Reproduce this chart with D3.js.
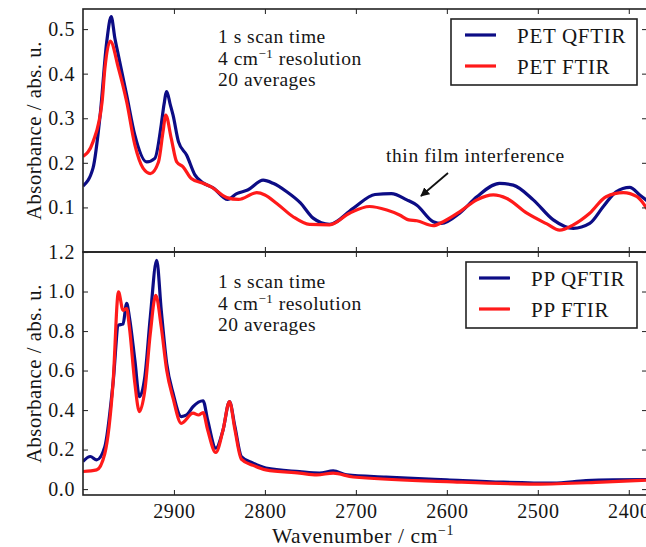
<!DOCTYPE html>
<html>
<head>
<meta charset="utf-8">
<script src="https://cdn.jsdelivr.net/npm/d3@7"></script>
<style>
  html, body { margin: 0; padding: 0; background: #fff; }
  svg { display: block; }
  text { font-family: "Liberation Serif", "Times New Roman", serif; fill: #151515; }
</style>
</head>
<body>
<svg id="chart" width="646" height="547"></svg>
<script>
// Tick values
const wavenumberTicks = [2900, 2800, 2700, 2600, 2500, 2400];
const petAbsTicks = [0.1, 0.2, 0.3, 0.4, 0.5];
const ppAbsTicks = [0.0, 0.2, 0.4, 0.6, 0.8, 1.0, 1.2];

// PET spectra (wavenumber in cm^-1, absorbance in abs. u.)
const petQftirWn = [3000, 2989, 2981, 2974, 2969, 2965, 2961, 2952, 2943, 2930, 2921, 2914, 2911, 2908, 2904, 2901, 2895, 2886, 2877, 2868, 2857, 2841, 2831, 2819, 2802, 2791, 2776, 2761, 2747, 2729, 2703, 2679, 2661, 2644, 2633, 2615, 2606, 2586, 2567, 2542, 2527, 2505, 2483, 2461, 2443, 2428, 2414, 2399, 2388, 2380];
const petQftirAbs = [0.148, 0.188, 0.31, 0.47, 0.528, 0.48, 0.44, 0.352, 0.262, 0.202, 0.21, 0.285, 0.33, 0.36, 0.33, 0.307, 0.247, 0.217, 0.173, 0.155, 0.144, 0.118, 0.131, 0.139, 0.161, 0.154, 0.135, 0.11, 0.076, 0.062, 0.098, 0.129, 0.131, 0.117, 0.105, 0.068, 0.064, 0.087, 0.124, 0.154, 0.15, 0.117, 0.072, 0.053, 0.064, 0.102, 0.135, 0.145, 0.128, 0.115];

const petFtirWn = [3000, 2989, 2979, 2976, 2970, 2961, 2952, 2943, 2934, 2926, 2917, 2912, 2909, 2903, 2897, 2890, 2881, 2868, 2859, 2842, 2829, 2809, 2800, 2787, 2769, 2751, 2729, 2707, 2685, 2666, 2652, 2642, 2633, 2615, 2604, 2586, 2567, 2549, 2534, 2512, 2490, 2476, 2461, 2443, 2425, 2406, 2391, 2380];
const petFtirAbs = [0.214, 0.247, 0.337, 0.41, 0.473, 0.412, 0.337, 0.24, 0.188, 0.176, 0.202, 0.27, 0.307, 0.255, 0.202, 0.191, 0.165, 0.154, 0.146, 0.122, 0.118, 0.133, 0.128, 0.109, 0.079, 0.062, 0.061, 0.087, 0.102, 0.094, 0.083, 0.072, 0.07, 0.059, 0.068, 0.09, 0.117, 0.128, 0.12, 0.087, 0.063, 0.049, 0.061, 0.087, 0.124, 0.133, 0.124, 0.097];

// PP spectra
const ppQftirWn = [3000, 2992, 2985, 2976, 2967, 2961, 2956, 2952, 2949, 2943, 2938, 2932, 2926, 2919, 2914, 2908, 2901, 2892, 2886, 2879, 2868, 2863, 2854, 2846, 2839, 2833, 2826, 2813, 2799, 2762, 2740, 2725, 2710, 2667, 2600, 2538, 2483, 2447, 2417, 2380];
const ppQftirAbs = [0.14, 0.165, 0.148, 0.215, 0.535, 0.83, 0.835, 0.94, 0.87, 0.653, 0.468, 0.569, 0.872, 1.158, 0.906, 0.636, 0.485, 0.367, 0.375, 0.417, 0.447, 0.35, 0.207, 0.3, 0.443, 0.316, 0.165, 0.131, 0.106, 0.088, 0.081, 0.092, 0.072, 0.061, 0.047, 0.035, 0.03, 0.043, 0.047, 0.048];

const ppFtirWn = [3000, 2985, 2976, 2967, 2961, 2956, 2952, 2949, 2943, 2938, 2932, 2926, 2920, 2914, 2908, 2901, 2892, 2879, 2873, 2868, 2863, 2854, 2846, 2839, 2833, 2826, 2813, 2799, 2762, 2743, 2725, 2703, 2600, 2502, 2430, 2380];
const ppFtirAbs = [0.089, 0.097, 0.18, 0.535, 0.998, 0.905, 0.914, 0.82, 0.535, 0.392, 0.501, 0.788, 0.981, 0.821, 0.602, 0.46, 0.333, 0.384, 0.375, 0.387, 0.3, 0.185, 0.3, 0.443, 0.3, 0.152, 0.12, 0.097, 0.081, 0.072, 0.081, 0.061, 0.038, 0.025, 0.035, 0.045];

const infoLines = ["1 s scan time", "4 cm|−1| resolution", "20 averages"];

const QF_COLOR = "#0c0c85";
const FT_COLOR = "#ff1a1a";

const svg = d3.select("#chart");
const left = 83, right = 647;

const x = d3.scaleLinear().domain([3000, 2380]).range([left, right]);

const panels = [
  {
    top: 9, bottom: 252, domain: [0, 0.545], ticks: petAbsTicks,
    series: [
      { wn: petQftirWn, abs: petQftirAbs, color: QF_COLOR, name: "PET QFTIR" },
      { wn: petFtirWn, abs: petFtirAbs, color: FT_COLOR, name: "PET FTIR" }
    ],
    legend: { x: 451, y: 19, w: 186, h: 66, lineX: 465, textX: 517 },
    infoY: 43
  },
  {
    top: 252, bottom: 495, domain: [-0.03, 1.2], ticks: ppAbsTicks,
    series: [
      { wn: ppQftirWn, abs: ppQftirAbs, color: QF_COLOR, name: "PP QFTIR" },
      { wn: ppFtirWn, abs: ppFtirAbs, color: FT_COLOR, name: "PP FTIR" }
    ],
    legend: { x: 466, y: 262, w: 171, h: 66, lineX: 479, textX: 531 },
    infoY: 288
  }
];

const FS = 19.5;

panels.forEach((p, i) => {
  const y = d3.scaleLinear().domain(p.domain).range([p.bottom, p.top]);
  const g = svg.append("g");

  const clipId = "clip" + i;
  svg.append("clipPath").attr("id", clipId)
    .append("rect").attr("x", left).attr("y", p.top)
    .attr("width", right - left).attr("height", p.bottom - p.top);

  const line = d3.line()
    .x(d => x(d[0])).y(d => y(d[1]))
    .curve(d3.curveMonotoneX);

  const plot = g.append("g").attr("clip-path", `url(#${clipId})`);
  // FTIR drawn on top of QFTIR
  [p.series[0], p.series[1]].forEach(s => {
    plot.append("path")
      .datum(s.wn.map((w, k) => [w, s.abs[k]]))
      .attr("fill", "none")
      .attr("stroke", s.color)
      .attr("stroke-width", 3.2)
      .attr("stroke-linejoin", "round")
      .attr("d", line);
  });

  // Axes with inward ticks on every side
  const axB = g.append("g").attr("transform", `translate(0,${p.bottom})`)
    .call(d3.axisBottom(x).tickValues(wavenumberTicks).tickSizeInner(-5).tickSizeOuter(0).tickPadding(9)
      .tickFormat(i === 1 ? d3.format("d") : () => ""));
  const axT = g.append("g").attr("transform", `translate(0,${p.top})`)
    .call(d3.axisTop(x).tickValues(wavenumberTicks).tickSizeInner(-5).tickSizeOuter(0).tickFormat(() => ""));
  const axL = g.append("g").attr("transform", `translate(${left},0)`)
    .call(d3.axisLeft(y).tickValues(p.ticks).tickSizeInner(-5).tickSizeOuter(0).tickPadding(8)
      .tickFormat(d3.format(".1f")));
  const axR = g.append("g").attr("transform", `translate(${right},0)`)
    .call(d3.axisRight(y).tickValues(p.ticks).tickSizeInner(-5).tickSizeOuter(0).tickFormat(() => ""));

  [axB, axT, axL, axR].forEach(a => {
    a.select(".domain").remove();
    a.selectAll(".tick line").attr("stroke", "#333").attr("stroke-width", 1.1);
    a.selectAll(".tick text").attr("font-family", "Liberation Serif, serif")
      .attr("font-size", 20).attr("fill", "#2a2a2a").style("letter-spacing", "0.6px");
  });

  // Frame
  g.append("rect").attr("x", left).attr("y", p.top)
    .attr("width", right - left).attr("height", p.bottom - p.top)
    .attr("fill", "none").attr("stroke", "#222").attr("stroke-width", 1.6);

  // Measurement settings
  const info = g.append("text").attr("x", 218).attr("y", p.infoY)
    .attr("font-size", FS).style("letter-spacing", "0.5px");
  infoLines.forEach((ln, k) => {
    const parts = ln.split("|");
    info.append("tspan").attr("x", 218).attr("y", p.infoY + k * 21.5).text(parts[0]);
    if (parts.length > 1) {
      info.append("tspan").attr("dy", -7).attr("font-size", 13).text(parts[1]);
      info.append("tspan").attr("dy", 7).text(parts[2]);
    }
  });

  // Legend
  const L = p.legend;
  const lg = g.append("g");
  lg.append("rect").attr("x", L.x).attr("y", L.y).attr("width", L.w).attr("height", L.h)
    .attr("fill", "#fff").attr("stroke", "#222").attr("stroke-width", 1.6);
  p.series.forEach((s, k) => {
    const cy = L.y + 16 + k * 31;
    lg.append("line").attr("x1", L.lineX).attr("x2", L.lineX + 31)
      .attr("y1", cy).attr("y2", cy).attr("stroke", s.color).attr("stroke-width", 3.2);
    lg.append("text").attr("x", L.textX).attr("y", cy + 8)
      .attr("font-size", 21).style("letter-spacing", "0.7px").text(s.name);
  });

  // Y axis title
  g.append("text")
    .attr("transform", `translate(34,${(p.top + p.bottom) / 2}) rotate(-90)`)
    .attr("text-anchor", "middle").attr("dy", "0.35em")
    .attr("font-size", 20.5).style("letter-spacing", "0.6px")
    .text("Absorbance / abs. u.");
});

// Annotation in the PET panel
svg.append("text").attr("x", 386).attr("y", 162).attr("font-size", FS)
  .style("letter-spacing", "0.6px").text("thin film interference");
svg.append("defs").append("marker")
  .attr("id", "arrowhead").attr("viewBox", "0 0 10 10").attr("refX", 9).attr("refY", 5)
  .attr("markerWidth", 9).attr("markerHeight", 9).attr("markerUnits", "userSpaceOnUse")
  .attr("orient", "auto")
  .append("path").attr("d", "M0,0 L10,5 L0,10 z").attr("fill", "#111");
svg.append("line").attr("x1", 448).attr("y1", 173).attr("x2", 421).attr("y2", 196)
  .attr("stroke", "#111").attr("stroke-width", 1.8).attr("marker-end", "url(#arrowhead)");

// X axis title
const xt = svg.append("text").attr("x", 363).attr("y", 543).attr("text-anchor", "middle")
  .attr("font-size", 21.5).style("letter-spacing", "0.6px");
xt.append("tspan").text("Wavenumber / cm");
xt.append("tspan").attr("dy", -8).attr("font-size", 14).text("−1");
</script>
</body>
</html>
